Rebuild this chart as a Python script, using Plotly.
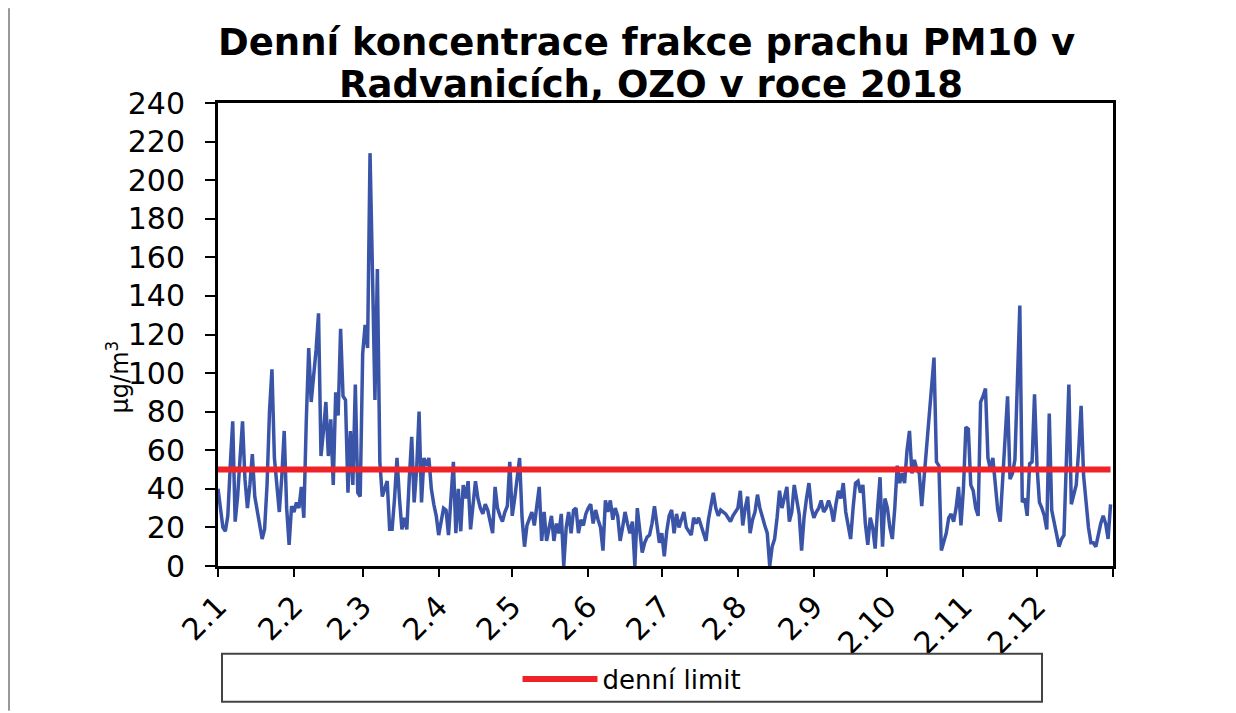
import pandas as pd
import plotly.graph_objects as go

# denni koncentrace PM10 [ug/m3], jeden seznam na mesic
jan = [40, 30, 20, 18, 26, 52, 75, 23, 36, 56, 75, 45, 30, 42, 58, 36, 28, 22, 14, 19,
       42, 80, 102, 56, 40, 28, 46, 70, 30, 11, 31]
feb = [28, 33, 30, 41, 25, 75, 113, 85, 98, 112, 131, 57, 70, 85, 57, 76, 42, 90, 78, 123,
       88, 86, 38, 70, 42, 94, 38, 36]
mar = [110, 125, 113, 214, 152, 86, 154, 54, 36, 40, 44, 19, 19, 35, 56, 35, 19, 25, 19, 45,
       67, 33, 50, 80, 33, 56, 52, 56, 40, 32, 26]
apr = [16, 24, 30, 29, 16, 35, 54, 17, 40, 18, 42, 35, 44, 19, 30, 44, 35, 30, 27, 32,
       29, 22, 17, 41, 30, 26, 23, 28, 31, 54]
may = [26, 35, 45, 56, 25, 10, 21, 24, 28, 21, 30, 41, 13, 28, 13, 20, 26, 13, 22, 17,
       27, 0, 20, 28, 17, 29, 30, 17, 24, 21, 27]
jun = [30, 32, 22, 29, 24, 20, 8, 34, 28, 34, 24, 30, 26, 13, 20, 28, 22, 17, 23, 0,
       30, 18, 7, 12, 15, 16, 22, 31, 20, 12]
jul = [17, 5, 18, 26, 29, 17, 27, 20, 24, 28, 20, 18, 16, 25, 22, 25, 21, 17, 13, 24,
       30, 38, 30, 26, 29, 28, 27, 25, 23, 26, 28]
aug = [30, 39, 21, 30, 36, 17, 24, 28, 37, 30, 25, 21, 17, 0, 10, 14, 25, 39, 30, 35,
       41, 23, 28, 42, 33, 27, 8, 25, 35, 43, 30]
sep = [25, 28, 30, 34, 28, 30, 34, 30, 23, 32, 39, 35, 43, 28, 20, 14, 30, 43, 44, 38,
       42, 22, 11, 25, 20, 9, 30, 46, 10, 35]
oct_ = [30, 20, 14, 30, 52, 43, 48, 43, 60, 70, 48, 55, 50, 48, 31, 47, 60, 81, 95, 108,
        54, 52, 8, 12, 17, 25, 27, 23, 30, 41, 21]
nov = [40, 72, 71, 42, 39, 30, 26, 85, 88, 92, 56, 50, 56, 40, 29, 23, 46, 70, 88, 45,
       48, 55, 90, 135, 33, 35, 26, 53, 54, 89]
dec = [52, 33, 30, 26, 19, 79, 29, 22, 16, 10, 14, 16, 55, 94, 32, 38, 42, 60, 83, 47,
       32, 20, 12, 12, 10, 17, 22, 26, 22, 14, 32]

limit = 50
tick_labels = ["2.1", "2.2", "2.3", "2.4", "2.5", "2.6", "2.7", "2.8", "2.9", "2.10", "2.11", "2.12"]

pm10 = jan + feb + mar + apr + may + jun + jul + aug + sep + oct_ + nov + dec
days = pd.date_range("2018-01-01", periods=len(pm10), freq="D")
tick_vals = list(pd.date_range("2018-01-01", periods=12, freq="MS"))
year_end = pd.Timestamp("2019-01-01")

FONT = "DejaVu Sans"

fig = go.Figure()
fig.add_trace(go.Scatter(x=days, y=pm10, mode="lines", name="PM10",
                         line=dict(color="#3a55a8", width=3.5), showlegend=False))
fig.add_trace(go.Scatter(x=days, y=[limit] * len(days), mode="lines", name="denní limit",
                         line=dict(color="#ee2227", width=6)))

# page coords (browser adds 8px body margin): plot area x 218..1113, y 103..567
def px(x):
    return (x - 218) / 895

def py(y):
    return (567 - y) / 464

fig.update_layout(
    width=1228, height=705, autosize=False,
    margin=dict(l=210, r=123, t=95, b=146),
    paper_bgcolor="white", plot_bgcolor="white",
    font=dict(family=FONT, color="black"),
    showlegend=True,
    legend=dict(orientation="h", x=px(632), y=py(679), xanchor="center", yanchor="middle",
                bgcolor="rgba(0,0,0,0)", font=dict(size=26), itemwidth=75),
    shapes=[
        dict(type="rect", xref="paper", yref="paper", x0=px(222), x1=px(1042), y0=py(703), y1=py(655),
             line=dict(color="#444444", width=2)),
        dict(type="line", xref="paper", yref="paper", x0=px(9), x1=px(9), y0=py(712), y1=py(8),
             line=dict(color="#333333", width=1)),
        dict(type="line", xref="paper", yref="paper", x0=px(1231), x1=px(1231), y0=py(712), y1=py(8),
             line=dict(color="#333333", width=1)),
    ],
    annotations=[
        dict(text="<b>Denní koncentrace frakce prachu PM10 v</b>", xref="paper", yref="paper",
             x=px(646), y=py(42), xanchor="center", yanchor="middle", showarrow=False,
             font=dict(size=37, family=FONT)),
        dict(text="<b>Radvanicích, OZO v roce 2018</b>", xref="paper", yref="paper",
             x=px(651), y=py(84), xanchor="center", yanchor="middle", showarrow=False,
             font=dict(size=37, family=FONT)),
        dict(text="μg/m<sup>3</sup>", xref="paper", yref="paper", x=px(118), y=py(378),
             xanchor="center", yanchor="middle", textangle=-90, showarrow=False,
             font=dict(size=24, family=FONT)),
    ],
)

fig.update_xaxes(range=[days[0], year_end], tickmode="array",
                 tickvals=tick_vals, ticktext=tick_labels, tickangle=-45,
                 ticks="outside", ticklen=8, tickwidth=2, tickcolor="black",
                 minor=dict(tickmode="array", tickvals=[year_end], ticks="outside",
                            ticklen=8, tickwidth=2, tickcolor="black", showgrid=False),
                 showline=True, linecolor="black", linewidth=3, mirror=True,
                 showgrid=False, zeroline=False, tickfont=dict(size=30))
fig.update_yaxes(range=[0, 240], dtick=20, ticks="outside", ticklen=10, tickwidth=2,
                 tickcolor="black", showline=True, linecolor="black", linewidth=3, mirror=True,
                 showgrid=False, zeroline=False, tickfont=dict(size=30), ticklabelstandoff=14)

fig.write_html("out.html")
